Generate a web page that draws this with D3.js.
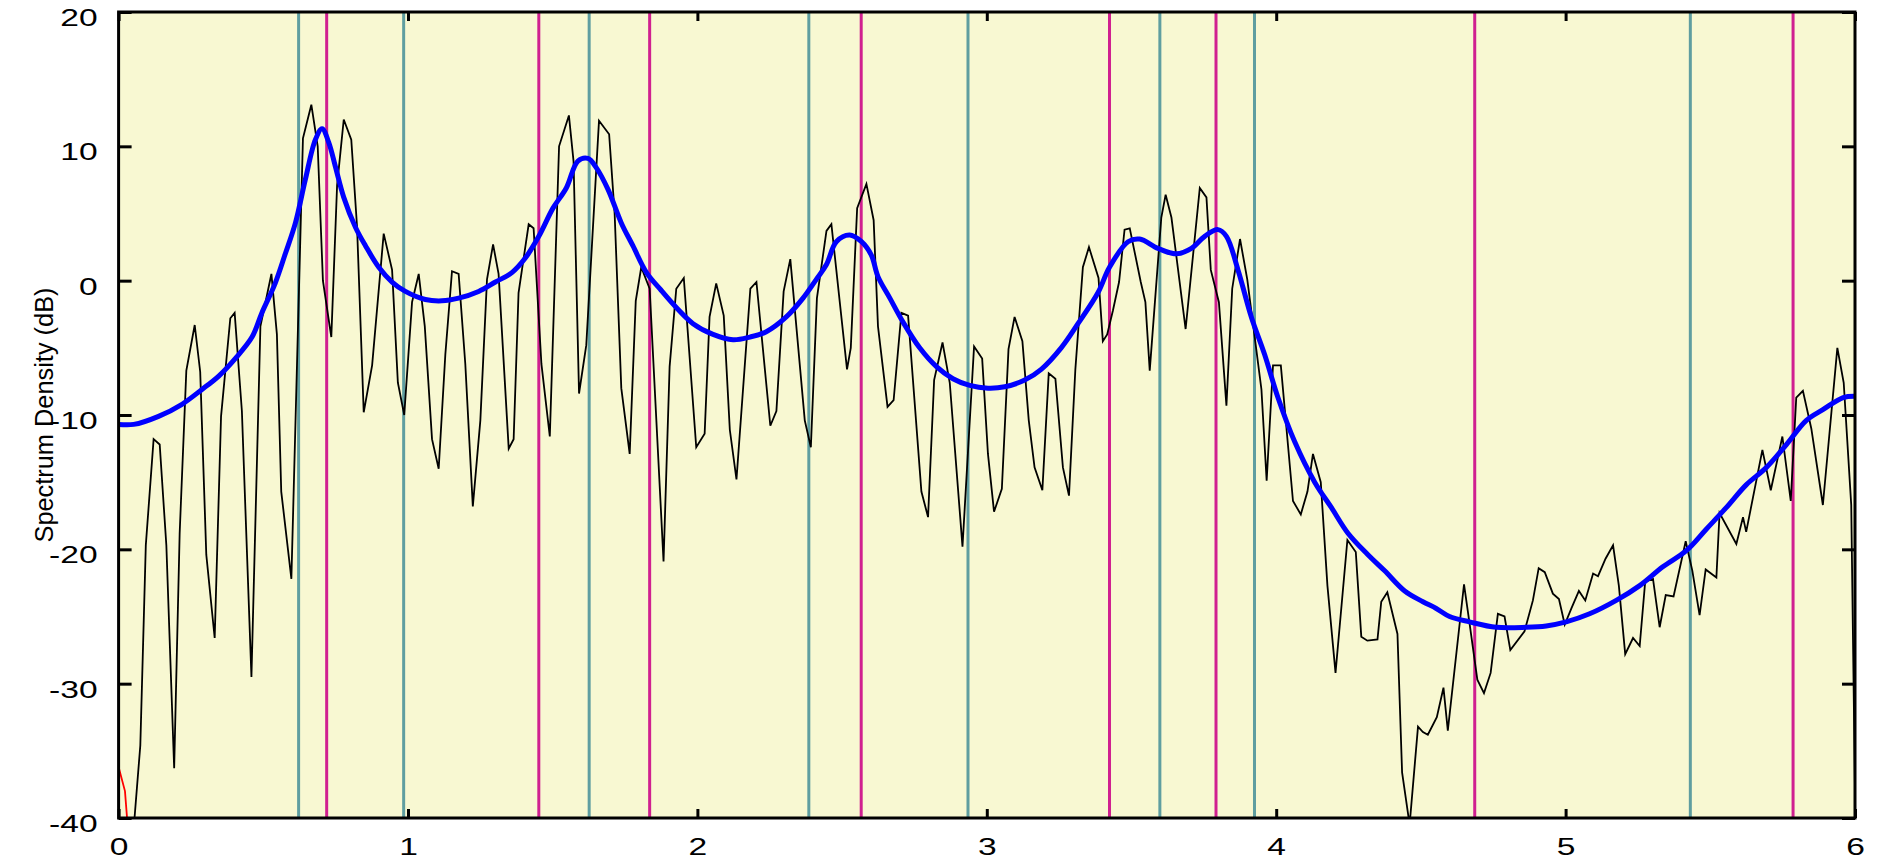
<!DOCTYPE html>
<html>
<head>
<meta charset="utf-8">
<script src="https://cdn.jsdelivr.net/npm/d3@7/dist/d3.min.js"></script>
<style>
  html, body { margin: 0; padding: 0; background: #ffffff; }
  svg { display: block; }
</style>
</head>
<body>
<div id="chart"></div>
<script>
// ---- data (frequency, dB) ----
const rawSpectrum = [
  [0.055, -40], [0.075, -34.6], [0.094, -19.7], [0.121, -11.8], [0.142, -12.2], [0.165, -19.7],
  [0.192, -36.3], [0.211, -18.8], [0.234, -6.7], [0.263, -3.3], [0.282, -6.8], [0.303, -20.4],
  [0.332, -26.6], [0.354, -10.1], [0.386, -2.8], [0.401, -2.4], [0.426, -9.7], [0.459, -29.5],
  [0.490, -3.4], [0.528, 0.5], [0.547, -4.0], [0.562, -15.7], [0.597, -22.2], [0.637, 10.6],
  [0.666, 13.1], [0.688, 10.0], [0.706, 0.0], [0.735, -4.2], [0.755, 7.1], [0.778, 12.0],
  [0.804, 10.5], [0.824, 4.0], [0.847, -9.8], [0.876, -6.3], [0.916, 3.5], [0.945, 0.8],
  [0.965, -7.6], [0.987, -10.0], [1.014, -1.6], [1.037, 0.5], [1.058, -3.4], [1.083, -11.8],
  [1.106, -14.0], [1.129, -5.5], [1.152, 0.7], [1.175, 0.5], [1.198, -6.2], [1.224, -16.8],
  [1.250, -10.4], [1.273, 0.1], [1.294, 2.7], [1.313, 0.5], [1.348, -12.5], [1.365, -11.8],
  [1.382, -0.9], [1.417, 4.2], [1.434, 3.9], [1.461, -6.2], [1.490, -11.6], [1.522, 10.0],
  [1.556, 12.3], [1.572, 8.9], [1.591, -8.4], [1.616, -4.8], [1.660, 11.9], [1.695, 10.9],
  [1.714, 5.0], [1.737, -8.0], [1.766, -12.9], [1.787, -1.5], [1.806, 1.0], [1.835, -0.6],
  [1.883, -20.9], [1.904, -6.4], [1.927, -0.6], [1.953, 0.2], [1.996, -12.4], [2.025, -11.4],
  [2.042, -2.7], [2.065, -0.2], [2.091, -2.6], [2.112, -11.1], [2.135, -14.8], [2.183, -0.6],
  [2.204, -0.1], [2.252, -10.8], [2.273, -9.7], [2.298, -0.8], [2.321, 1.6], [2.371, -10.4],
  [2.392, -12.4], [2.413, -1.3], [2.446, 3.7], [2.463, 4.2], [2.517, -6.6], [2.530, -5.0],
  [2.552, 5.4], [2.584, 7.2], [2.609, 4.5], [2.624, -3.4], [2.657, -9.4], [2.678, -8.9],
  [2.705, -2.4], [2.728, -2.6], [2.774, -15.7], [2.797, -17.6], [2.818, -7.4], [2.847, -4.6],
  [2.872, -7.6], [2.916, -19.8], [2.956, -4.9], [2.984, -5.8], [3.004, -12.9], [3.025, -17.2],
  [3.052, -15.5], [3.075, -5.1], [3.096, -2.7], [3.123, -4.5], [3.145, -10.4], [3.165, -13.9],
  [3.192, -15.6], [3.214, -6.9], [3.237, -7.3], [3.263, -13.9], [3.284, -16.0], [3.306, -6.6],
  [3.332, 1.0], [3.353, 2.5], [3.386, 0.2], [3.401, -4.5], [3.416, -4.0], [3.436, -2.2],
  [3.457, -0.1], [3.476, 3.8], [3.494, 3.9], [3.532, -0.1], [3.548, -1.6], [3.563, -6.7],
  [3.603, 4.7], [3.618, 6.4], [3.638, 4.7], [3.687, -3.6], [3.736, 6.9], [3.759, 6.2],
  [3.774, 0.8], [3.802, -1.6], [3.828, -9.3], [3.848, -0.6], [3.875, 3.1], [3.900, 0.1],
  [3.949, -8.1], [3.967, -14.9], [3.989, -6.3], [4.016, -6.3], [4.058, -16.4], [4.085, -17.4],
  [4.108, -15.7], [4.127, -12.9], [4.154, -15.0], [4.177, -22.7], [4.205, -29.2], [4.246, -19.3],
  [4.275, -20.2], [4.294, -26.5], [4.315, -26.8], [4.350, -26.7], [4.363, -23.9], [4.384, -23.2],
  [4.419, -26.3], [4.435, -36.6], [4.461, -40.5], [4.490, -33.2], [4.507, -33.6], [4.524, -33.8],
  [4.555, -32.5], [4.578, -30.3], [4.593, -33.5], [4.649, -22.6], [4.668, -25.5], [4.695, -29.7],
  [4.718, -30.7], [4.741, -29.2], [4.766, -24.8], [4.789, -25.0], [4.809, -27.5], [4.858, -26.1],
  [4.887, -23.8], [4.907, -21.4], [4.928, -21.7], [4.956, -23.3], [4.977, -23.7], [4.997, -25.6],
  [5.020, -24.4], [5.046, -23.1], [5.068, -23.8], [5.095, -21.8], [5.112, -22.0], [5.138, -20.7],
  [5.164, -19.7], [5.184, -22.7], [5.206, -27.8], [5.233, -26.6], [5.256, -27.2], [5.275, -22.4],
  [5.302, -22.2], [5.325, -25.8], [5.346, -23.4], [5.373, -23.5], [5.415, -19.4], [5.438, -21.6],
  [5.463, -24.9], [5.484, -21.5], [5.521, -22.1], [5.532, -17.3], [5.590, -19.6], [5.613, -17.6],
  [5.624, -18.7], [5.680, -12.6], [5.709, -15.6], [5.749, -11.6], [5.778, -16.4], [5.797, -8.7],
  [5.820, -8.2], [5.849, -11.0], [5.889, -16.7], [5.939, -5.0], [5.961, -7.6], [5.987, -16.7],
  [6.0, -38]
];

const smoothSpectrum = [
  [0, -10.7], [0.052, -10.7], [0.138, -10.1], [0.219, -9.2], [0.288, -8.1], [0.346, -7.1],
  [0.403, -5.8], [0.461, -4.2], [0.495, -2.4], [0.541, -0.2], [0.576, 2.0], [0.611, 4.3],
  [0.645, 7.5], [0.680, 10.5], [0.703, 11.3], [0.726, 10.3], [0.749, 8.5], [0.778, 6.2],
  [0.818, 4.0], [0.853, 2.6], [0.899, 1.0], [0.945, -0.1], [0.991, -0.8], [1.060, -1.4],
  [1.117, -1.5], [1.175, -1.3], [1.244, -0.8], [1.302, -0.1], [1.359, 0.6], [1.406, 1.7],
  [1.452, 3.3], [1.501, 5.4], [1.547, 6.9], [1.587, 8.9], [1.622, 9.1], [1.651, 8.4],
  [1.691, 6.8], [1.737, 4.3], [1.777, 2.6], [1.824, 0.6], [1.870, -0.6], [1.927, -2.0],
  [1.985, -3.2], [2.054, -4.0], [2.123, -4.4], [2.181, -4.2], [2.238, -3.8], [2.307, -2.7],
  [2.365, -1.3], [2.411, 0.1], [2.446, 1.2], [2.480, 2.9], [2.526, 3.4], [2.567, 2.9],
  [2.601, 1.9], [2.624, 0.3], [2.665, -1.3], [2.711, -3.1], [2.768, -5.0], [2.826, -6.4],
  [2.883, -7.3], [2.941, -7.8], [3.004, -8.0], [3.062, -7.9], [3.131, -7.4], [3.188, -6.6],
  [3.257, -5.0], [3.315, -3.2], [3.384, -0.9], [3.424, 1.0], [3.488, 2.9], [3.528, 3.1],
  [3.592, 2.4], [3.655, 2.0], [3.707, 2.4], [3.753, 3.3], [3.799, 3.8], [3.828, 3.3],
  [3.868, 0.8], [3.914, -2.7], [3.960, -5.5], [4.006, -8.7], [4.064, -12.0], [4.133, -15.0],
  [4.191, -16.9], [4.248, -18.8], [4.317, -20.4], [4.375, -21.6], [4.444, -23.1], [4.507, -23.9],
  [4.553, -24.4], [4.599, -25.0], [4.668, -25.4], [4.760, -25.8], [4.864, -25.8], [4.933, -25.7],
  [5.002, -25.4], [5.083, -24.8], [5.175, -23.8], [5.256, -22.7], [5.336, -21.3], [5.417, -20.1],
  [5.486, -18.5], [5.555, -16.9], [5.624, -15.2], [5.694, -13.9], [5.763, -12.2], [5.832, -10.4],
  [5.889, -9.6], [5.959, -8.7], [6.0, -8.6]
];

const redTrace = [[0, -36.2], [0.022, -38.0], [0.031, -40.5]];

const tealMarkers = [0.622, 0.985, 1.626, 2.385, 2.935, 3.598, 3.925, 5.431];
const magentaMarkers = [0.719, 1.452, 1.835, 2.566, 3.424, 3.792, 4.686, 5.786];

const xTicks = [0, 1, 2, 3, 4, 5, 6];
const yTicks = [-40, -30, -20, -10, 0, 10, 20];
const yLabel = 'Spectrum Density (dB)';

// ---- layout ----
const width = 1879, height = 862;
const margin = { top: 12, right: 24, bottom: 44, left: 118.6 };
const innerW = width - margin.left - margin.right;
const innerH = height - margin.top - margin.bottom;
const fontStack = '"Liberation Sans", Arial, Helvetica, sans-serif';

const svg = d3.select('#chart')
  .append('svg')
  .attr('width', width)
  .attr('height', height);

const g = svg.append('g')
  .attr('transform', `translate(${margin.left}, ${margin.top})`);

const x = d3.scaleLinear().domain([0, 6]).range([0, innerW]);
const y = d3.scaleLinear().domain([-40, 20]).range([innerH, 0]);

svg.append('defs').append('clipPath')
  .attr('id', 'plot-clip')
  .append('rect')
  .attr('width', innerW)
  .attr('height', innerH);

g.append('rect')
  .attr('width', innerW)
  .attr('height', innerH)
  .attr('fill', '#f8f8d2');

const plot = g.append('g').attr('clip-path', 'url(#plot-clip)');

// vertical marker lines
plot.selectAll('.teal')
  .data(tealMarkers)
  .enter()
  .append('line')
  .attr('x1', d => x(d)).attr('x2', d => x(d))
  .attr('y1', 0).attr('y2', innerH)
  .attr('stroke', '#5f9ea0')
  .attr('stroke-width', 3);

plot.selectAll('.magenta')
  .data(magentaMarkers)
  .enter()
  .append('line')
  .attr('x1', d => x(d)).attr('x2', d => x(d))
  .attr('y1', 0).attr('y2', innerH)
  .attr('stroke', '#d02090')
  .attr('stroke-width', 3);

const line = d3.line()
  .x(d => x(d[0]))
  .y(d => y(d[1]));

plot.append('path')
  .datum(rawSpectrum)
  .attr('d', line)
  .attr('fill', 'none')
  .attr('stroke', '#000000')
  .attr('stroke-width', 1.8)
  .attr('stroke-linejoin', 'miter');

plot.append('path')
  .datum(redTrace)
  .attr('d', line)
  .attr('fill', 'none')
  .attr('stroke', '#ff0000')
  .attr('stroke-width', 1.8);

plot.append('path')
  .datum(smoothSpectrum)
  .attr('d', line.curve(d3.curveCatmullRom))
  .attr('fill', 'none')
  .attr('stroke', '#0000ff')
  .attr('stroke-width', 5)
  .attr('stroke-linejoin', 'round');

// ---- axes (ticks point inward, mirrored on all sides) ----
const plainNumber = d => String(d);

const styleAxis = sel => {
  sel.select('.domain').remove();
  sel.selectAll('.tick line').attr('stroke', '#000').attr('stroke-width', 3);
  sel.selectAll('text')
    .attr('fill', '#000')
    .attr('font-family', fontStack)
    .attr('font-size', 24);
};

g.append('g')
  .attr('transform', `translate(0, ${innerH})`)
  .call(d3.axisBottom(x).tickValues(xTicks).tickSizeInner(-9).tickSizeOuter(0).tickFormat(plainNumber))
  .call(styleAxis)
  .call(s => s.selectAll('text').attr('y', 37).attr('dy', 0).attr('transform', 'scale(1.4,1)'));

g.append('g')
  .call(d3.axisTop(x).tickValues(xTicks).tickSizeInner(-9).tickSizeOuter(0).tickFormat(''))
  .call(styleAxis);

g.append('g')
  .call(d3.axisLeft(y).tickValues(yTicks).tickSizeInner(-13).tickSizeOuter(0).tickFormat(plainNumber))
  .call(styleAxis)
  .call(s => s.selectAll('text').attr('x', -21 / 1.4).attr('dy', '0.56em').attr('transform', 'scale(1.4,1)'));

g.append('g')
  .attr('transform', `translate(${innerW}, 0)`)
  .call(d3.axisRight(y).tickValues(yTicks).tickSizeInner(-13).tickSizeOuter(0).tickFormat(''))
  .call(styleAxis);

g.append('rect')
  .attr('width', innerW)
  .attr('height', innerH)
  .attr('fill', 'none')
  .attr('stroke', '#000')
  .attr('stroke-width', 3);

svg.append('text')
  .attr('transform', `translate(44, ${margin.top + innerH / 2}) rotate(-90)`)
  .attr('text-anchor', 'middle')
  .attr('dy', '0.35em')
  .attr('font-family', fontStack)
  .attr('font-size', 25)
  .attr('textLength', 255)
  .attr('lengthAdjust', 'spacingAndGlyphs')
  .attr('fill', '#000')
  .text(yLabel);
</script>
</body>
</html>
